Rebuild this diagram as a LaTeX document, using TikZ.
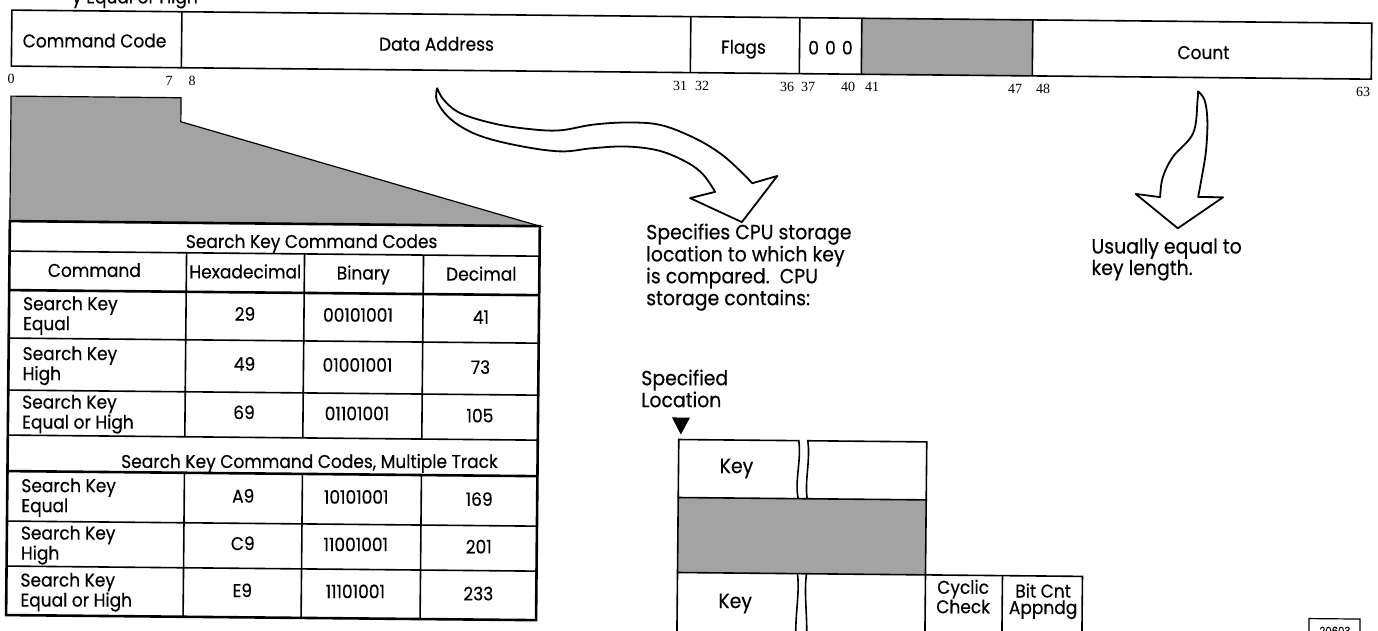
\documentclass[tikz,border=0pt]{standalone}
\usepackage{fontspec}
\setmainfont{Poppins}[FakeStretch=0.92, FakeBold=0.4]
\newfontfamily\bitfont{Liberation Serif}

\begin{document}
\begin{tikzpicture}[x=1pt, y=-1pt]

% =======================================================
% Colour definitions
% =======================================================
\definecolor{stipple}{gray}{0.64}   % dotted screen areas

% =======================================================
% Layout parameters (y runs downwards)
% =======================================================

% command word bar
\def\bartop{10}
\def\barbot{66}
\def\bitrow{79}

% table
\def\tabl{12}
\def\tabr{542}
\def\colA{189}
\def\colB{307}
\def\colC{426}

% storage sketch
\def\stl{683}
\def\stm{803}
\def\stn{812}
\def\str{931}

% =======================================================
% Styles
% =======================================================
\tikzset{
  frame/.style    = {line width=1.6pt},
  heavy/.style    = {line width=2.6pt},
  screen/.style   = {fill=stipple},
  txt/.style      = {font=\fontsize{18.5}{20}\selectfont, inner sep=0pt},
  note/.style     = {inner sep=0pt, align=left, anchor=base west},
  bitno/.style    = {font=\bitfont\fontsize{14}{14}\selectfont, inner sep=0pt},
  fatarrow/.style = {line width=1.8pt, fill=white, line join=round},
}

\useasboundingbox (0,0) rectangle (1378,631);

\begin{scope}[rotate=-0.55]

% caption above, cut off by the page
\node[txt, anchor=base east] (topcap) at (198,1.5) {y Equal or High};

% =======================================================
% Command word
% =======================================================
\fill[screen] (862,\bartop) rectangle (1033,\barbot);
\draw[frame] (12,\bartop) rectangle (1372,\barbot);
\foreach \x in {182,691,800,862,1033}
  \draw[frame] (\x,\bartop) -- (\x,\barbot);

\node[txt, anchor=base] (cmdcode)  at (95,46.5)   {Command Code};
\node[txt, anchor=base] (dataaddr) at (437,46.5)  {Data Address};
\node[txt, anchor=base] (flags)    at (744,46.5)  {Flags};
\node[txt, anchor=base] (zeros)    at (831,46.5)  {0\,\,0\,\,0};
\node[txt, anchor=base] (count)    at (1204,47.5) {Count};

% bit positions
\foreach \x/\n in {12/0, 170/7, 193/8, 681/31, 703/32, 788/36, 809/37,
                   849/40, 873/41, 1016/47, 1044/48, 1364/63}
  \node[bitno] (bit\n) at (\x,\bitrow) {\n};

% =======================================================
% Command code table
% =======================================================

% screened fan from the command code field
\filldraw[screen, line width=1.2pt]
  (\tabl,96) -- (182,96) -- (182,120) -- (\tabr,221) -- (\tabl,221) -- cycle;

\fill[white] (\tabl,221) rectangle (\tabr,615);
\foreach \y in {251,338,390,435,521,566}
  \draw[frame] (\tabl,\y) -- (\tabr,\y);
\foreach \y in {290,471}
  \draw[heavy] (\tabl,\y) -- (\tabr,\y);
\foreach \x in {\colA,\colB,\colC}{
  \draw[frame] (\x,251) -- (\x,435);
  \draw[frame] (\x,471) -- (\x,615);
}
\draw[heavy] (\tabl,221) rectangle (\tabr,615);

% titles
\node[txt, anchor=base] (tabtitle) at (314,245) {Search Key Command Codes};
\node[txt, anchor=base] (mtitle)   at (314,465) {Search Key Command Codes, Multiple Track};

% column heads
\node[txt, anchor=base] (hcmd) at (97,276)  {Command};
\node[txt, anchor=base] (hhex) at (248,276) {Hexadecimal};
\node[txt, anchor=base] (hbin) at (366,276) {Binary};
\node[txt, anchor=base] (hdec) at (484,276) {Decimal};

% rows
\foreach \yc/\kind/\hex/\bin/\dec [count=\i] in {
    313.5/Equal/29/00101001/41,
    363.5/High/49/01001001/73,
    412/Equal or High/69/01101001/105,
    495.5/Equal/A9/10101001/169,
    543/High/C9/11001001/201,
    590/Equal or High/E9/11101001/233}{
  \node[txt, anchor=west, align=left] (cmd\i) at (26,\yc+2) {Search Key\\\kind};
  \node[txt] (hex\i) at (248,\yc-2) {\hex};
  \node[txt] (bin\i) at (361,\yc-2) {\bin};
  \node[txt] (dec\i) at (484,\yc-1) {\dec};
}

% =======================================================
% Data address arrow and CPU storage
% =======================================================
\draw[fatarrow]
  plot[smooth, tension=0.6] coordinates {(438,84) (445,96) (462,109)
    (496,119) (531,124) (561,125) (594,119) (628,116.5) (661,118.5)
    (694,130.5) (721,146) (741,163) (754,176)}
  -- (779,168.5) -- (744,215) -- (692,191.5)
  -- plot[smooth, tension=0.6] coordinates {(717,185) (705,168) (689,156)
    (661,144.5) (628,140.5) (594,142.5) (561,146) (516,140) (478,130)
    (452,115) (438,97) (438,84)}
  -- cycle;

% multi-line nodes: base anchor sits on the last line
\node[note, font=\fontsize{20.5}{15.5}\selectfont] (cpunote) at (649,299)
  {Specifies CPU storage\\location to which key\\is compared.\ \ CPU\\storage contains:};

\node[note, font=\fontsize{20.5}{17}\selectfont] (specloc) at (645,401)
  {Specified\\Location};
\fill (676,411) -- (694,411) -- (685,428) -- cycle;

% first key area
\draw[frame] (\stl,491) -- (\stl,433) -- (\stm,433)
  .. controls (806,452) and (799,474) .. (\stm,491);
\draw[frame] (\stn,491) .. controls (809,474) and (815,452) .. (\stn,433)
  -- (\str,433) -- (\str,491);
\filldraw[frame, screen] (\stl,491) rectangle (\str,566);

% second key area
\draw[frame] (\stl,650) -- (\stl,566);
\draw[frame] (\stm,566) .. controls (806,590) and (799,612) .. (\stm,650);
\draw[frame] (\stn,566) .. controls (809,590) and (815,612) .. (\stn,650);
\draw[frame] (\str,566) -- (1088,566) -- (1088,650);
\draw[frame] (\str,566) -- (\str,650);
\draw[frame] (1008,566) -- (1008,650);

\node[txt, anchor=base, font=\fontsize{20.5}{16}\selectfont] (key1) at (741,466) {Key};
\node[txt, anchor=base, font=\fontsize{20.5}{16}\selectfont] (key2) at (741,601) {Key};
\node[txt, anchor=base, align=center, font=\fontsize{18.5}{16.5}\selectfont]
  (crc) at (969,604) {Cyclic\\Check};
\node[txt, anchor=base, align=center, font=\fontsize{18.5}{16.5}\selectfont]
  (bitcnt) at (1049,604) {Bit Cnt\\Appndg};

% =======================================================
% Count arrow
% =======================================================
\draw[fatarrow]
  plot[smooth, tension=0.6] coordinates {(1199,80) (1205.5,88.5)
    (1208.5,108.5) (1207.5,138.5) (1203.5,165.5) (1200,185.5)}
  -- (1225,185.5) -- (1180,217) -- (1137.5,183)
  -- plot[smooth, tension=0.6] coordinates {(1162,186) (1164.5,166)
    (1174.5,145.5) (1194.5,121.5) (1198.5,88.5) (1199,80)}
  -- cycle;

\node[note, font=\fontsize{20.5}{20}\selectfont] (countnote) at (1094,264.5)
  {Usually equal to\\key length.};

% figure number, cut off by the page
\draw[line width=1.2pt] (1315,606) rectangle (1366,640);
\node[txt, font=\fontsize{11}{11}\selectfont] (fignum) at (1341,618) {20603};

\end{scope}

\end{tikzpicture}
\end{document}
